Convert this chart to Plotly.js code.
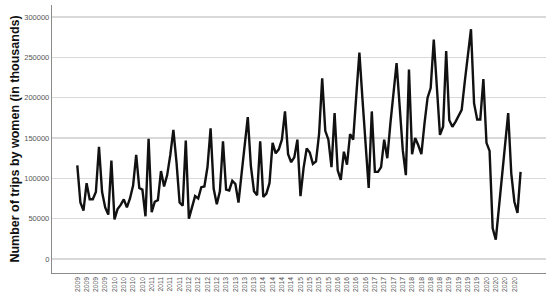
<!DOCTYPE html>
<html>
<head>
<meta charset="utf-8">
<script src="https://cdn.plot.ly/plotly-3.0.1.min.js"></script>
<style>html,body{margin:0;padding:0;background:#fff;}#chart{width:550px;height:295px;}</style>
</head>
<body>
<div id="chart"></div>
<script>
// Monthly categories Jan 2009 .. Dec 2020
const years = ["2009","2010","2011","2012","2013","2014","2015","2016","2017","2018","2019","2020"];
const months = [];
years.forEach(y => { for (let m = 1; m <= 12; m++) months.push(y + "-" + String(m).padStart(2, "0")); });

// Number of trips by women (in thousands)
const trips2009 = [116000, 70000, 60000, 94000, 74000, 74000, 83000, 139000, 83000, 64000, 55000, 122000];
const trips2010 = [49000, 62000, 67000, 74000, 64000, 75000, 91000, 129000, 88000, 86000, 53000, 149000];
const trips2011 = [58000, 71000, 73000, 109000, 90000, 104000, 129000, 160000, 120000, 70000, 66000, 147000];
const trips2012 = [50000, 65000, 78000, 75000, 89000, 90000, 114000, 162000, 87000, 68000, 84000, 146000];
const trips2013 = [86000, 85000, 97000, 93000, 70000, 106000, 141000, 176000, 115000, 84000, 79000, 146000];
const trips2014 = [77000, 81000, 94000, 144000, 131000, 136000, 148000, 183000, 130000, 120000, 126000, 148000];
const trips2015 = [78000, 113000, 137000, 132000, 118000, 121000, 155000, 224000, 159000, 148000, 114000, 181000];
const trips2016 = [110000, 98000, 133000, 117000, 155000, 148000, 203000, 256000, 198000, 144000, 88000, 183000];
const trips2017 = [108000, 108000, 114000, 148000, 125000, 168000, 206000, 243000, 189000, 135000, 104000, 235000];
const trips2018 = [130000, 150000, 141000, 130000, 168000, 200000, 212000, 272000, 213000, 154000, 164000, 258000];
const trips2019 = [172000, 164000, 170000, 177000, 185000, 220000, 253000, 285000, 193000, 173000, 173000, 223000];
const trips2020 = [144000, 134000, 38000, 24000, 63000, 102000, 141000, 181000, 106000, 71000, 57000, 108000];

const trips = [].concat(trips2009, trips2010, trips2011, trips2012, trips2013, trips2014,
                        trips2015, trips2016, trips2017, trips2018, trips2019, trips2020);

// Tick labels: one every three months
const tickLabels = ["2009","2009","2009","2009","2010","2010","2010","2010","2011","2011","2011","2011",
                    "2012","2012","2012","2012","2013","2013","2013","2013","2014","2014","2014","2014",
                    "2015","2015","2015","2015","2016","2016","2016","2016","2017","2017","2017","2017",
                    "2018","2018","2018","2018","2019","2019","2019","2019","2020","2020","2020","2020"];
const tickVals = months.filter((_, i) => i % 3 === 0);

const yTicks = [0, 50000, 100000, 150000, 200000, 250000, 300000];

const trace = {
  type: "scatter",
  mode: "lines",
  x: months,
  y: trips,
  line: { color: "#111111", width: 2.4 },
  hoverinfo: "skip"
};

const layout = {
  width: 550,
  height: 295,
  margin: { l: 52, r: 4, t: 5, b: 22, pad: 0 },
  paper_bgcolor: "#ffffff",
  plot_bgcolor: "#ffffff",
  showlegend: false,
  font: { family: "Liberation Sans, Arial, sans-serif", color: "#555555" },
  xaxis: {
    type: "category",
    range: [-8.16, 151.2],
    tickmode: "array",
    tickvals: tickVals,
    ticktext: tickLabels,
    tickangle: -90,
    tickfont: { size: 6.8, color: "#555555" },
    ticks: "",
    showgrid: false,
    showline: true,
    linecolor: "#8a8a8a",
    linewidth: 1.2,
    zeroline: false,
    automargin: false
  },
  yaxis: {
    range: [-17400, 315000],
    tickmode: "array",
    tickvals: yTicks,
    ticktext: yTicks.map(String),
    tickfont: { size: 7.5, color: "#555555" },
    ticks: "",
    showgrid: true,
    gridcolor: "#d9d9d9",
    gridwidth: 1.2,
    showline: true,
    linecolor: "#8a8a8a",
    linewidth: 1.2,
    zeroline: false,
    automargin: false,
    title: {
      text: "Number of trips by women (in thousands)",
      font: { family: "Liberation Sans, Arial, sans-serif", size: 12.5, color: "#111111", weight: "bold" },
      standoff: 1
    }
  }
};

Plotly.newPlot("chart", [trace], layout, { staticPlot: true, displayModeBar: false });
</script>
</body>
</html>
